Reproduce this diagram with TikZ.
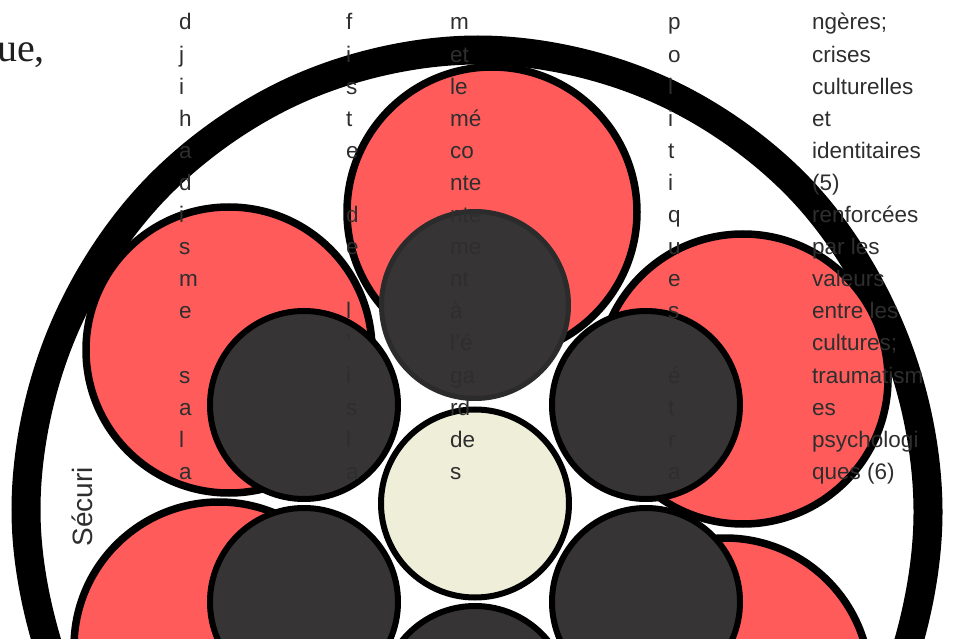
\documentclass[tikz,border=0pt]{standalone}
\usepackage{fontspec}
\newfontfamily\sansf{Liberation Sans}
\newfontfamily\seriff{Liberation Serif}
\definecolor{petal}{HTML}{FF5B5B}
\definecolor{darkc}{HTML}{373436}
\definecolor{cream}{HTML}{EEEED9}
\definecolor{txtc}{HTML}{2E2E2E}
\definecolor{topstroke}{HTML}{2B2B2B}
\begin{document}
\begin{tikzpicture}[x=1pt,y=-1pt,
  petalc/.style={draw=black,line width=7.5pt,fill=petal},
  darkcirc/.style={draw=black,line width=6pt,fill=darkc},
  topdark/.style={draw=topstroke,line width=5pt,fill=darkc},
  centerc/.style={draw=black,line width=6pt,fill=cream},
  ringline/.style={draw=black,line width=29pt},
  txt/.style={font=\sansf\fontsize{22.5}{27}\selectfont,text=txtc,inner sep=0pt,anchor=base west}
]
\useasboundingbox (0,0) rectangle (954,639);
\clip (0,0) rectangle (954,639);
% outer ring (slightly irregular circle round (478,510))
\coordinate (rc) at (478,510);
\draw[ringline] plot[smooth cycle,tension=0.6] coordinates {
 ([shift={(90:462)}]rc) ([shift={(67.5:470)}]rc) ([shift={(45:468)}]rc) ([shift={(22.5:452)}]rc)
 ([shift={(0:450)}]rc) ([shift={(-22.5:450)}]rc) ([shift={(-45:455)}]rc) ([shift={(-67.5:458)}]rc)
 ([shift={(-90:460)}]rc) ([shift={(-112.5:458)}]rc) ([shift={(-135:455)}]rc) ([shift={(-157.5:452)}]rc)
 ([shift={(180:452)}]rc) ([shift={(157.5:452)}]rc) ([shift={(135:466)}]rc) ([shift={(112.5:468)}]rc)};
% petals
\draw[petalc] (492,212) circle (145);
\draw[petalc] (229,350) circle (143);
\draw[petalc] (743,379) circle (145);
\draw[petalc] (219,647) circle (145);
\draw[petalc] (725,683) circle (145);
\draw[petalc] (478,800) circle (145);
% dark circles
\draw[darkcirc] (304,405) circle (94);
\draw[darkcirc] (646,405) circle (94);
\draw[darkcirc] (304,602) circle (94);
\draw[darkcirc] (646,602) circle (94);
\draw[darkcirc] (475,700) circle (94);
\draw[topdark] (475,305) circle (93.5);
% center
\draw[centerc] (475,503.5) circle (94);
% texts
\node[font=\seriff\fontsize{40}{48}\selectfont,text=black!88,inner sep=0pt,anchor=base east] (ue) at (45,62) {ue,};
\node[font=\sansf\fontsize{28}{33}\selectfont,text=txtc,inner sep=0pt,anchor=base west,rotate=90] (secu) at (92,546.5) {Sécuri};
\foreach \t [count=\i] in {d,j,i,h,a,d,i,s,m,e,{},s,a,l,a}
  \node[txt] (ca\i) at (179,{30+32.1*(\i-1)}) {\t};
\foreach \t [count=\i] in {f,i,s,t,e,{},d,e,{},l,’,i,s,l,a}
  \node[txt] (cb\i) at (346,{30+32.1*(\i-1)}) {\t};
\foreach \t [count=\i] in {m,et,le,mé,co,nte,nte,me,nt,à,l’é,ga,rd,de,s}
  \node[txt] (cc\i) at (450,{30+32.1*(\i-1)}) {\t};
\foreach \t [count=\i] in {p,o,l,i,t,i,q,u,e,s,{},é,t,r,a}
  \node[txt] (cd\i) at (668,{30+32.1*(\i-1)}) {\t};
\foreach \t [count=\i] in {{ngères;},crises,culturelles,et,identitaires,{(5)},renforcées,{par les},valeurs,{entre les},{cultures;},traumatism,es,psychologi,{ques (6)}}
  \node[txt] (ce\i) at (812,{30+32.1*(\i-1)}) {\t};
\end{tikzpicture}
\end{document}
